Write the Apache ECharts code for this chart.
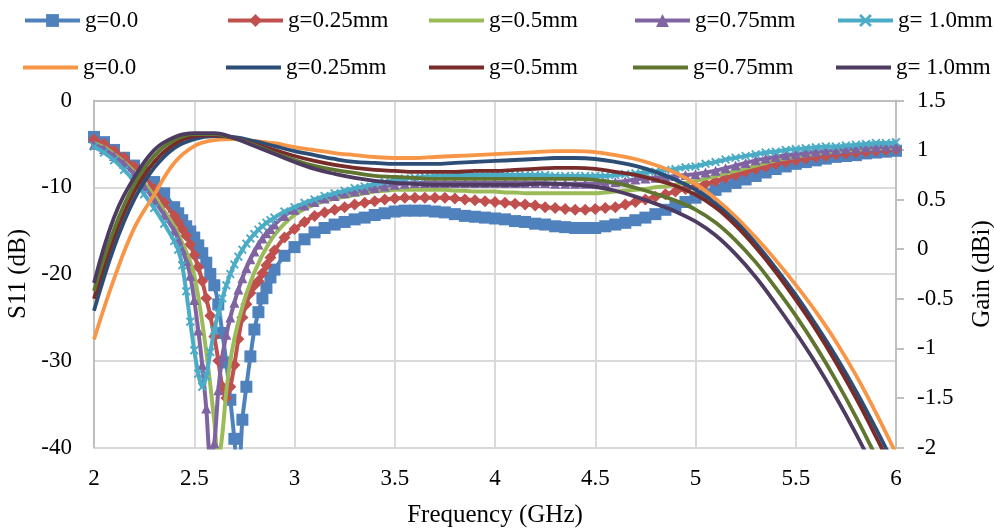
<!DOCTYPE html>
<html><head><meta charset="utf-8">
<script src="https://cdn.jsdelivr.net/npm/echarts@6/dist/echarts.min.js"></script>
<style>html,body{margin:0;padding:0;background:#fff}#c{width:994px;height:532px}</style>
</head><body><div id="c"></div>
<script>
// Frequency points (GHz) for S11 curves
const freqS = [2.00,2.05,2.10,2.15,2.20,2.25,2.30,2.35,2.40,
2.42,2.44,2.46,2.48,2.50,2.52,2.54,2.56,2.58,2.60,2.62,2.64,2.66,2.68,2.70,2.72,2.74,2.76,2.78,2.80,2.82,2.84,2.86,2.88,2.90,
2.95,3.00,3.05,3.10,3.15,3.20,3.25,3.30,3.35,3.40,3.45,3.50,3.55,3.60,3.65,3.70,3.75,3.80,3.85,3.90,3.95,4.00,
4.05,4.10,4.15,4.20,4.25,4.30,4.35,4.40,4.45,4.50,4.55,4.60,4.65,4.70,4.75,4.80,4.85,4.90,4.95,5.00,
5.05,5.10,5.15,5.20,5.25,5.30,5.35,5.40,5.45,5.50,5.55,5.60,5.65,5.70,5.75,5.80,5.85,5.90,5.95,6.00];

// S11 (dB)
const s11_g0 = [-4.2,-4.8,-5.7,-6.6,-7.5,-8.3,-9.4,-10.7,-12.3,
-13.0,-13.8,-14.5,-15.1,-15.8,-16.7,-17.6,-18.7,-20.0,-21.3,-23.5,-26.8,-30.2,-34.5,-39.0,-44.0,-36.8,-33.0,-29.5,-26.4,-24.4,-22.8,-21.6,-20.4,-19.5,
-17.9,-16.9,-16.0,-15.2,-14.7,-14.3,-14.0,-13.7,-13.5,-13.2,-13.0,-12.8,-12.7,-12.7,-12.7,-12.8,-12.9,-13.1,-13.3,-13.4,-13.5,-13.6,
-13.7,-13.9,-14.0,-14.2,-14.3,-14.5,-14.6,-14.7,-14.7,-14.7,-14.5,-14.3,-14.1,-13.8,-13.5,-13.1,-12.6,-12.2,-11.7,-11.2,
-10.8,-10.3,-9.9,-9.5,-9.1,-8.7,-8.3,-7.9,-7.6,-7.3,-7.1,-6.9,-6.7,-6.5,-6.4,-6.3,-6.1,-6.0,-5.9,-5.8];
const s11_g025 = [-4.5,-5.0,-5.8,-6.6,-7.6,-8.7,-10.2,-11.8,-13.3,
-14.0,-14.8,-15.6,-16.6,-17.8,-19.2,-20.8,-22.8,-24.8,-27.2,-30.0,-33.0,-34.3,-33.0,-30.5,-27.5,-25.0,-23.5,-22.2,-21.3,-20.8,-19.9,-19.0,-18.1,-17.3,
-15.8,-14.8,-14.0,-13.3,-12.9,-12.6,-12.3,-12.0,-11.8,-11.6,-11.4,-11.3,-11.2,-11.2,-11.2,-11.2,-11.2,-11.3,-11.4,-11.5,-11.6,-11.7,
-11.8,-11.9,-12.0,-12.1,-12.3,-12.4,-12.5,-12.6,-12.6,-12.5,-12.4,-12.3,-12.0,-11.7,-11.4,-11.1,-10.8,-10.5,-10.2,-9.9,
-9.6,-9.3,-8.9,-8.6,-8.2,-7.9,-7.6,-7.3,-7.1,-6.9,-6.7,-6.5,-6.4,-6.2,-6.1,-6.0,-5.9,-5.8,-5.7,-5.6];
const s11_g05 = [-4.9,-5.4,-6.2,-7.1,-8.2,-9.5,-11.0,-12.7,-14.5,
-15.4,-16.4,-17.4,-18.6,-20.2,-22.6,-25.6,-29.0,-32.8,-37.0,-41.5,-38.5,-33.5,-30.0,-27.5,-25.5,-23.8,-22.3,-21.0,-19.8,-18.8,-17.8,-17.0,-16.2,-15.5,
-14.2,-13.2,-12.5,-12.0,-11.6,-11.3,-11.1,-10.9,-10.7,-10.5,-10.4,-10.3,-10.3,-10.3,-10.3,-10.3,-10.3,-10.4,-10.4,-10.5,-10.5,-10.5,
-10.6,-10.6,-10.7,-10.7,-10.7,-10.7,-10.7,-10.7,-10.7,-10.7,-10.6,-10.5,-10.4,-10.3,-10.2,-10.0,-9.9,-9.7,-9.5,-9.3,
-9.0,-8.7,-8.4,-8.1,-7.8,-7.5,-7.2,-6.9,-6.7,-6.5,-6.3,-6.2,-6.0,-5.9,-5.8,-5.7,-5.6,-5.5,-5.5,-5.4];
const s11_g075 = [-5.1,-5.6,-6.4,-7.3,-8.5,-9.9,-11.5,-13.2,-15.0,
-16.0,-17.2,-18.5,-20.2,-23.0,-26.5,-30.5,-35.5,-41.0,-39.5,-33.4,-29.5,-27.0,-25.0,-23.3,-21.8,-20.5,-19.3,-18.3,-17.4,-16.6,-15.9,-15.3,-14.8,-14.3,
-13.3,-12.6,-12.1,-11.7,-11.3,-11.0,-10.7,-10.5,-10.3,-10.1,-9.9,-9.7,-9.6,-9.5,-9.5,-9.5,-9.5,-9.5,-9.5,-9.5,-9.5,-9.5,
-9.5,-9.5,-9.5,-9.5,-9.5,-9.6,-9.6,-9.6,-9.6,-9.6,-9.5,-9.4,-9.3,-9.1,-9.0,-8.9,-8.8,-8.7,-8.6,-8.5,
-8.3,-8.1,-7.8,-7.5,-7.2,-6.9,-6.7,-6.5,-6.3,-6.2,-6.0,-5.9,-5.8,-5.7,-5.6,-5.5,-5.4,-5.4,-5.3,-5.3];
const s11_g10 = [-5.3,-6.0,-6.9,-8.0,-9.3,-10.8,-12.4,-14.2,-16.2,
-17.2,-19.0,-22.0,-25.5,-28.8,-31.5,-33.0,-31.8,-29.0,-26.5,-24.5,-22.8,-21.3,-20.0,-18.9,-18.0,-17.2,-16.5,-15.9,-15.4,-14.9,-14.5,-14.1,-13.8,-13.5,
-12.8,-12.3,-11.8,-11.4,-11.0,-10.7,-10.4,-10.1,-9.9,-9.6,-9.4,-9.2,-9.0,-8.9,-8.8,-8.7,-8.7,-8.6,-8.6,-8.6,-8.6,-8.6,
-8.6,-8.6,-8.6,-8.6,-8.6,-8.7,-8.7,-8.7,-8.7,-8.7,-8.7,-8.6,-8.5,-8.4,-8.3,-8.2,-8.0,-7.9,-7.7,-7.6,
-7.3,-7.1,-6.8,-6.6,-6.4,-6.2,-6.0,-5.9,-5.7,-5.6,-5.5,-5.4,-5.3,-5.3,-5.2,-5.1,-5.0,-4.9,-4.9,-4.8];

// Frequency points (GHz) for gain curves
const freqG = [2.0,2.1,2.2,2.3,2.4,2.5,2.6,2.7,2.8,2.9,3.0,3.1,3.2,3.3,3.4,3.5,3.6,3.7,3.8,3.9,
4.0,4.1,4.2,4.3,4.4,4.5,4.6,4.7,4.8,4.9,5.0,5.1,5.2,5.3,5.4,5.5,5.6,5.7,5.8,5.9,6.0];

// Gain (dBi)
const gain_g0 = [-0.91,-0.30,0.21,0.55,0.87,1.04,1.10,1.11,1.09,1.07,1.03,1.00,0.97,0.95,0.93,0.92,0.92,0.93,0.94,0.95,
0.96,0.97,0.98,0.99,0.99,0.98,0.95,0.91,0.85,0.77,0.66,0.51,0.33,0.12,-0.11,-0.36,-0.63,-0.93,-1.27,-1.65,-2.06];
const gain_g025 = [-0.62,0.02,0.50,0.82,1.02,1.11,1.14,1.13,1.09,1.04,0.99,0.95,0.91,0.88,0.87,0.86,0.86,0.86,0.87,0.88,
0.89,0.90,0.91,0.92,0.92,0.91,0.88,0.84,0.78,0.70,0.60,0.46,0.28,0.06,-0.19,-0.46,-0.76,-1.08,-1.43,-1.81,-2.21];
const gain_g05 = [-0.50,0.12,0.58,0.88,1.06,1.14,1.15,1.12,1.06,1.00,0.94,0.89,0.85,0.82,0.80,0.79,0.78,0.78,0.78,0.79,
0.79,0.80,0.81,0.82,0.82,0.81,0.78,0.75,0.70,0.64,0.55,0.42,0.24,0.02,-0.23,-0.51,-0.81,-1.14,-1.50,-1.89,-2.30];
const gain_g075 = [-0.42,0.20,0.65,0.94,1.10,1.16,1.16,1.12,1.05,0.97,0.90,0.84,0.80,0.77,0.74,0.73,0.72,0.71,0.71,0.71,
0.71,0.71,0.71,0.71,0.71,0.70,0.67,0.62,0.56,0.49,0.40,0.27,0.09,-0.13,-0.39,-0.67,-0.98,-1.32,-1.69,-2.09,-2.50];
const gain_g10 = [-0.34,0.32,0.72,1.00,1.13,1.17,1.17,1.12,1.04,0.96,0.88,0.81,0.76,0.72,0.69,0.67,0.66,0.65,0.65,0.65,
0.65,0.65,0.66,0.66,0.65,0.63,0.59,0.53,0.46,0.38,0.28,0.14,-0.05,-0.28,-0.55,-0.84,-1.15,-1.49,-1.86,-2.26,-2.68];

const labels = ['g=0.0','g=0.25mm','g=0.5mm','g=0.75mm','g= 1.0mm'];

const FONT = 'Liberation Serif, Times New Roman, serif';
const xPath = 'path://M0,1.5 L1.5,0 L5,3.5 L8.5,0 L10,1.5 L6.5,5 L10,8.5 L8.5,10 L5,6.5 L1.5,10 L0,8.5 L3.5,5 Z';

const s11Defs = [
  {vals: s11_g0,   color: '#4F81BD', symbol: 'rect',     size: 12},
  {vals: s11_g025, color: '#C0504D', symbol: 'diamond',  size: 12},
  {vals: s11_g05,  color: '#9BBB59', symbol: 'none',     size: 0},
  {vals: s11_g075, color: '#8064A2', symbol: 'triangle', size: 10},
  {vals: s11_g10,  color: '#4BACC6', symbol: xPath,      size: 9}
];
const gainDefs = [
  {vals: gain_g0,   color: '#F79646'},
  {vals: gain_g025, color: '#2C4D75'},
  {vals: gain_g05,  color: '#772C2A'},
  {vals: gain_g075, color: '#5F7530'},
  {vals: gain_g10,  color: '#4D3B62'}
];

const series = [];
s11Defs.forEach((d, i) => {
  series.push({
    name: labels[i], type: 'line', xAxisIndex: 0, yAxisIndex: 0,
    data: freqS.map((f, k) => [f, d.vals[k]]),
    smooth: 0.3, clip: true,
    symbol: d.symbol, symbolSize: d.size, showSymbol: d.symbol !== 'none',
    lineStyle: {color: d.color, width: 4},
    itemStyle: {color: d.color, borderWidth: 0},
    z: 2 + i
  });
});
gainDefs.forEach((d, i) => {
  series.push({
    name: 'Gain ' + labels[i], type: 'line', xAxisIndex: 0, yAxisIndex: 1,
    data: freqG.map((f, k) => [f, d.vals[k]]),
    smooth: 0.4, clip: true, symbol: 'none', showSymbol: false,
    lineStyle: {color: d.color, width: 3.8},
    itemStyle: {color: d.color},
    z: 10 + i
  });
});

const colX = [18, 221, 424, 628, 831];
const legends = [];
for (let r = 0; r < 2; r++) {
  for (let c = 0; c < 5; c++) {
    const plain = (r === 1) || (c === 2);
    const color = r === 0 ? s11Defs[c].color : gainDefs[c].color;
    const item = {name: (r === 0 ? '' : 'Gain ') + labels[c]};
    if (plain) {
      item.icon = 'rect';
      item.itemStyle = {color: color};
    }
    legends.push({
      data: [item],
      left: colX[c], top: r === 0 ? 4 : 51,
      itemWidth: 55, itemHeight: plain ? 4 : 16, itemGap: 0,
      lineStyle: {width: 4},
      formatter: n => n.replace('Gain ', ''),
      textStyle: {fontFamily: FONT, fontSize: 23, color: '#000', padding: [0,0,0,0]},
      selectedMode: false
    });
  }
}

const axisGray = '#BFBFBF';
const gridGray = '#D9D9D9';
const option = {
  animation: false,
  backgroundColor: '#fff',
  legend: legends,
  grid: {left: 94, right: 98, top: 100.5, bottom: 84.5, containLabel: false, outerBoundsMode: 'none'},
  xAxis: {
    type: 'value', min: 2, max: 6, interval: 0.5,
    axisLine: {show: true, lineStyle: {color: axisGray, width: 2}},
    axisTick: {show: false},
    splitLine: {show: true, lineStyle: {color: gridGray, width: 2}},
    axisLabel: {fontFamily: FONT, fontSize: 23, color: '#000', margin: 20},
    name: 'Frequency (GHz)', nameLocation: 'middle', nameGap: 55,
    nameTextStyle: {fontFamily: FONT, fontSize: 25, color: '#000'}
  },
  yAxis: [{
    type: 'value', min: -40, max: 0, interval: 10, position: 'left',
    axisLine: {show: true, lineStyle: {color: axisGray, width: 2}},
    axisTick: {show: false},
    splitLine: {show: true, lineStyle: {color: gridGray, width: 2}},
    axisLabel: {fontFamily: FONT, fontSize: 23, color: '#000', margin: 22},
    name: 'S11 (dB)', nameLocation: 'middle', nameGap: 54, nameRotate: 90,
    nameTextStyle: {fontFamily: FONT, fontSize: 25, color: '#000'}
  }, {
    type: 'value', min: -2, max: 1.5, interval: 0.5, position: 'right',
    axisLine: {show: true, lineStyle: {color: axisGray, width: 2}},
    axisTick: {show: true, inside: false, length: 8, lineStyle: {color: axisGray, width: 2}},
    splitLine: {show: false},
    axisLabel: {fontFamily: FONT, fontSize: 23, color: '#000', margin: 21},
    name: 'Gain (dBi)', nameLocation: 'middle', nameGap: 74, nameRotate: 90,
    nameTextStyle: {fontFamily: FONT, fontSize: 25, color: '#000'}
  }],
  series: series
};
const chart = echarts.init(document.getElementById('c'), null, {renderer: 'canvas'});
chart.setOption(option);
</script>
</body></html>
